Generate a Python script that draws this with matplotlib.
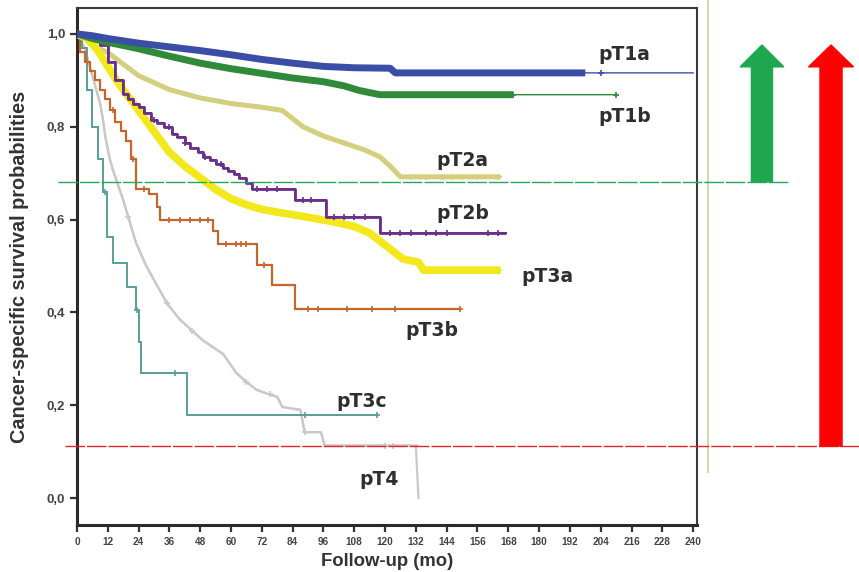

# plot.py
# =====================================================
# Kaplan-Meier style cancer-specific survival curves by
# pathological stage, with two threshold lines and arrows.
# =====================================================

import numpy as np
import matplotlib
matplotlib.use("Agg")
import matplotlib.pyplot as plt
from matplotlib.patches import FancyArrow

OUT_FILE = "out.png"

# -----------------------------------------------------
# DATA
# -----------------------------------------------------
STAGES = ["pT1a", "pT1b", "pT2a", "pT2b", "pT3a", "pT3b", "pT3c", "pT4"]

T1A_T = [0, 6, 12, 24, 36, 48, 60, 72, 84, 96, 108, 122, 124]
T1A_S = [1.0, 0.996, 0.99, 0.98, 0.972, 0.964, 0.955, 0.945, 0.937, 0.93, 0.927, 0.926, 0.916]
T1A_CENS = [128, 134, 140, 146, 152, 158, 164, 170, 176, 180, 184, 188, 192, 196, 204]

T1B_T = [0, 6, 12, 24, 36, 48, 60, 72, 84, 96, 104, 110, 118]
T1B_S = [1.0, 0.99, 0.982, 0.968, 0.952, 0.937, 0.925, 0.915, 0.905, 0.897, 0.888, 0.878, 0.869]
T1B_CENS = [122, 128, 134, 140, 146, 150, 154, 158, 162, 166, 170, 210]

T2A_T = [0, 3, 6, 12, 18, 24, 30, 36, 48, 60, 72, 80, 88, 96, 104, 112, 118, 122, 126]
T2A_S = [1.0, 0.99, 0.975, 0.96, 0.935, 0.91, 0.895, 0.88, 0.862, 0.85, 0.842,
         0.835, 0.80, 0.78, 0.765, 0.75, 0.735, 0.715, 0.692]
T2A_CENS = [130, 136, 142, 146, 150, 156, 164]

T2B_T = [0, 5, 9, 12, 15, 18, 20, 22, 24, 26, 29, 31, 34, 37, 39, 42, 44, 47,
         49, 52, 54, 57, 59, 61, 63, 66, 68, 85, 97, 118]
T2B_S = [1.0, 0.99, 0.975, 0.94, 0.90, 0.87, 0.86, 0.85, 0.843, 0.83, 0.815,
         0.808, 0.80, 0.785, 0.778, 0.765, 0.755, 0.745, 0.735, 0.728, 0.72,
         0.712, 0.705, 0.698, 0.69, 0.678, 0.665, 0.643, 0.605, 0.571]
T2B_CENS = [30, 36, 42, 50, 56, 70, 74, 78, 88, 91, 100, 104, 108, 112,
            122, 126, 130, 136, 140, 144, 160, 164]

T3A_T = [0, 4, 8, 12, 16, 20, 24, 28, 32, 36, 42, 48, 54, 60, 66, 72, 80, 90,
         100, 108, 114, 120, 127, 133, 135]
T3A_S = [1.0, 0.99, 0.965, 0.93, 0.895, 0.865, 0.835, 0.805, 0.775, 0.745, 0.715,
         0.69, 0.665, 0.645, 0.632, 0.622, 0.614, 0.605, 0.595, 0.585, 0.571,
         0.545, 0.515, 0.508, 0.491]
T3A_CENS = [138, 142, 146, 150, 154, 160, 164]

T3B_T = [0, 1, 3, 5, 7, 9, 11, 13, 15, 17, 19, 21, 23, 28, 31, 32.5, 53, 55, 70, 76, 85]
T3B_S = [1.0, 0.96, 0.94, 0.92, 0.9, 0.88, 0.86, 0.835, 0.81, 0.79, 0.77, 0.73,
         0.665, 0.655, 0.627, 0.60, 0.575, 0.548, 0.503, 0.458, 0.407]
T3B_CENS = [4, 14, 22, 26, 36, 40, 44, 48, 51, 58, 62, 64, 66, 73, 90, 94, 105, 115, 124, 149]

T3C_T = [0, 2, 4, 6, 8, 10, 11.7, 14, 19.4, 23, 24, 25, 42.7]
T3C_S = [1.0, 0.97, 0.88, 0.8, 0.73, 0.66, 0.563, 0.506, 0.455, 0.405, 0.336, 0.27, 0.18]
T3C_CENS = [11, 23.5, 38, 89, 117]

T4_T = [0, 3, 5, 7, 9, 10, 11, 12.8, 14, 18, 23, 27, 31, 35, 40, 45, 49, 53, 57,
        62, 66, 70, 74, 78, 80, 87, 88.7, 95, 96.5, 132, 133]
T4_S = [1.0, 0.97, 0.93, 0.89, 0.85, 0.82, 0.78, 0.73, 0.707, 0.642, 0.55, 0.50,
        0.46, 0.42, 0.385, 0.36, 0.34, 0.325, 0.31, 0.27, 0.25, 0.233, 0.225,
        0.218, 0.196, 0.19, 0.142, 0.142, 0.113, 0.113, 0.0]
T4_CENS = [20, 35, 45, 66, 75, 89, 120, 123]

# last follow-up time of each curve
END_TIMES = [240, 210, 165, 167, 165, 149, 117, 133]
# end of the crowded (thick looking) part of each curve
DENSE_END = [198, 170, 165, 167, 165, 149, 117, 133]
# thick, crowded curves read as smooth bands; sparse ones as steps
STEPPED = [False, False, False, True, False, True, True, False]

# label positions (months, survival)
LABEL_X = [203, 203, 140, 140, 173, 128, 101, 110]
LABEL_Y = [0.955, 0.823, 0.728, 0.614, 0.478, 0.36, 0.209, 0.041]

# threshold lines (survival)
GREEN_LEVEL = 0.681
RED_LEVEL = 0.112

# styles
COLORS = ["#3b4ea6", "#2f8a3a", "#d3cf7e", "#6b2f8c", "#f2e81c", "#c3672f", "#5d9f99", "#c9c9c9"]
THICK_LW = [5.0, 5.0, 3.6, 2.0, 5.5, 1.6, 1.3, 1.6]
THIN_LW = [1.0, 1.0, 1.6, 1.4, 1.6, 1.3, 1.3, 1.6]


def draw_curve(ax, t, s, cens, end, dense_end, color, lw_thick, lw_thin, stepped):
    t = list(t)
    s = list(s)
    style = "steps-post" if stepped else "default"
    # thin line over full follow-up
    ax.plot(t + [end], s + [s[-1]], drawstyle=style, color=color, lw=lw_thin,
            solid_joinstyle="miter", zorder=3)
    # thick part where censoring marks crowd the curve
    tt = [x for x in t if x < dense_end]
    ss = s[:len(tt)]
    ax.plot(tt + [dense_end], ss + [ss[-1]], drawstyle=style, color=color,
            lw=lw_thick, solid_joinstyle="round", solid_capstyle="butt", zorder=3)
    # censoring ticks
    ys = np.interp(cens, t, s) if not stepped else \
        np.array(s)[np.searchsorted(t, cens, side="right") - 1]
    ax.plot(cens, ys, linestyle="none", marker="+", color=color,
            markersize=5, markeredgewidth=1.2, zorder=4)


def main():
    fig = plt.figure(figsize=(8.59, 5.72), dpi=100)
    ax = fig.add_axes([0.0896, 0.0822, 0.7218, 0.904])

    curves = [
        (T1A_T, T1A_S, T1A_CENS), (T1B_T, T1B_S, T1B_CENS),
        (T2A_T, T2A_S, T2A_CENS), (T2B_T, T2B_S, T2B_CENS),
        (T3A_T, T3A_S, T3A_CENS), (T3B_T, T3B_S, T3B_CENS),
        (T3C_T, T3C_S, T3C_CENS), (T4_T, T4_S, T4_CENS),
    ]
    # draw faint curves first so the thick ones sit on top
    order = [7, 6, 5, 2, 4, 3, 1, 0]
    for i in order:
        t, s, c = curves[i]
        draw_curve(ax, t, s, c, END_TIMES[i], DENSE_END[i], COLORS[i],
                   THICK_LW[i], THIN_LW[i], STEPPED[i])

    for i, name in enumerate(STAGES):
        ax.text(LABEL_X[i], LABEL_Y[i], name, fontsize=13.5, fontweight="bold",
                family="DejaVu Sans", color="#2e2e2e", va="center", ha="left")

    # axes look
    ax.set_xlim(0, 241.5)
    ax.set_ylim(-0.058, 1.056)
    ax.set_xticks(np.arange(0, 241, 12))
    ax.set_yticks([0.0, 0.2, 0.4, 0.6, 0.8, 1.0])
    ax.set_yticklabels(["0,0", "0,2", "0,4", "0,6", "0,8", "1,0"],
                       fontsize=9.5, fontweight="bold", color="#444444",
                       family="Liberation Sans")
    ax.set_xticklabels([str(v) for v in range(0, 241, 12)], fontsize=7.2,
                       fontweight="bold", color="#444444", family="Liberation Sans")
    ax.tick_params(axis="both", direction="out", length=5, width=1.6, color="#333333")
    for side in ["left", "bottom"]:
        ax.spines[side].set_linewidth(2.2)
        ax.spines[side].set_color("#2a2a2a")
    for side in ["top", "right"]:
        ax.spines[side].set_linewidth(1.5)
        ax.spines[side].set_color("#3a3a3a")

    ax.set_xlabel("Follow-up (mo)", fontsize=13.3, fontweight="bold",
                  family="Liberation Sans", color="#333333")
    ax.set_ylabel("Cancer-specific survival probabilities", fontsize=14.3,
                  fontweight="bold", family="Liberation Sans", color="#333333")
    ax.xaxis.set_label_coords(0.5, -0.054)
    ax.yaxis.set_label_coords(-0.077, 0.5)

    # threshold lines running past the plot area
    ax.plot([-7.4, 277], [GREEN_LEVEL, GREEN_LEVEL], color="#25a85a", lw=1.0,
            dashes=(14, 1.5), clip_on=False, zorder=5)
    ax.plot([-4.7, 306], [RED_LEVEL, RED_LEVEL], color="#e02525", lw=1.0,
            dashes=(14, 1.5), clip_on=False, zorder=5)

    # thin light vertical rule right of the box
    ax.plot([245.8, 245.8], [0.056, 1.075], color="#cfdcae", lw=1.5,
            clip_on=False, zorder=1)

    # arrows
    top = 0.976
    ax.add_patch(FancyArrow(266.8, GREEN_LEVEL, 0, top - GREEN_LEVEL, width=8.2,
                            head_width=17.0, head_length=0.047,
                            length_includes_head=True, color="#1fa74f",
                            clip_on=False, zorder=6))
    ax.add_patch(FancyArrow(293.7, RED_LEVEL, 0, top - RED_LEVEL, width=8.6,
                            head_width=17.5, head_length=0.047,
                            length_includes_head=True, color="#ff0000",
                            clip_on=False, zorder=6))

    fig.savefig(OUT_FILE, dpi=100)
    plt.close(fig)


if __name__ == "__main__":
    main()
